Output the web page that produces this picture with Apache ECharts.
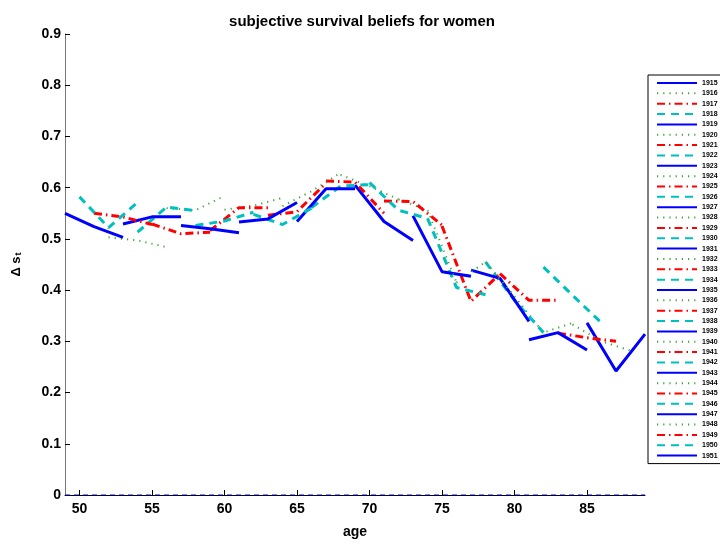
<!DOCTYPE html>
<html>
<head>
<meta charset="utf-8">
<script src="https://cdn.jsdelivr.net/npm/echarts@6/dist/echarts.min.js"></script>
<style>
  html, body { margin: 0; padding: 0; background: #fff; }
  #chart { width: 720px; height: 544px; }
</style>
</head>
<body>
<div id="chart"></div>
<script>
// survey waves; a cohort's age in a wave is wave - birth year
var waves = [2000, 2002, 2004]
var cohorts = [1915, 1916, 1917, 1918, 1919, 1920, 1921, 1922, 1923, 1924, 1925, 1926,
  1927, 1928, 1929, 1930, 1931, 1932, 1933, 1934, 1935, 1936, 1937, 1938, 1939, 1940,
  1941, 1942, 1943, 1944, 1945, 1946, 1947, 1948, 1949, 1950, 1951]

// delta s_t per cohort, one value per wave
var beliefs = [
  [0.336, 0.242, 0.314], // 1915
  [0.333, 0.300, 0.282], // 1916
  [0.316, 0.307, 0.300], // 1917
  [0.445, 0.390, 0.336], // 1918
  [0.303, 0.317, 0.283], // 1919
  [0.388, 0.317, 0.336], // 1920
  [0.432, 0.380, 0.380], // 1921
  [0.455, 0.380, 0.317], // 1922
  [0.439, 0.423, 0.339], // 1923
  [0.415, 0.455, 0.388], // 1924
  [0.525, 0.378, 0.432], // 1925
  [0.540, 0.405, 0.391], // 1926
  [0.545, 0.436, 0.427], // 1927
  [0.577, 0.556, 0.415], // 1928
  [0.574, 0.573, 0.527], // 1929
  [0.610, 0.556, 0.540], // 1930
  [0.605, 0.534, 0.497], // 1931
  [0.625, 0.603, 0.577], // 1932
  [0.613, 0.611, 0.550], // 1933
  [0.561, 0.603, 0.606], // 1934
  [0.534, 0.598, 0.598], // 1935
  [0.564, 0.593, 0.629], // 1936
  [0.546, 0.553, 0.609], // 1937
  [0.548, 0.528, 0.560], // 1938
  [0.533, 0.539, 0.571], // 1939
  [0.557, 0.565, 0.580], // 1940
  [0.516, 0.561, 0.561], // 1941
  [0.526, 0.535, 0.552], // 1942
  [0.526, 0.520, 0.512], // 1943
  [0.560, 0.556, 0.584], // 1944
  [0.529, 0.510, 0.513], // 1945
  [0.513, 0.562, 0.555], // 1946
  [0.529, 0.543, 0.543], // 1947
  [0.503, 0.497, 0.484], // 1948
  [0.550, 0.543, 0.528], // 1949
  [0.582, 0.522, 0.571], // 1950
  [0.550, 0.524, 0.503]  // 1951
]

var ageTicks = [50, 55, 60, 65, 70, 75, 80, 85]
var zeroLine = [[49, 0], [89, 0]]

var font = 'Liberation Sans, Arial, Helvetica, sans-serif'

// matlab line style cycle: b-, g:, r-., c--
var styles = [
  { color: '#0000ff', width: 3, type: 'solid' },
  { color: '#3fa43f', width: 2, type: [1.2, 5] },
  { color: '#ff0000', width: 3, type: [8, 4, 1.5, 4] },
  { color: '#00bfbf', width: 3, type: [8, 6] }
]

var series = cohorts.map(function (c, i) {
  return {
    name: String(c),
    type: 'line',
    symbol: 'none',
    lineStyle: styles[i % 4],
    itemStyle: { color: styles[i % 4].color, opacity: 0 },
    data: waves.map(function (w, k) { return [w - c, beliefs[i][k]] })
  }
})

series.push({
  name: 'zero',
  type: 'line',
  symbol: 'none',
  z: 1,
  lineStyle: { color: '#0000ff', width: 1, type: [5, 4] },
  data: zeroLine
})

var chart = echarts.init(document.getElementById('chart'))
chart.setOption({
  animation: false,
  textStyle: { fontFamily: font },
  title: {
    text: 'subjective survival beliefs for women',
    left: 357,
    top: 9,
    textAlign: 'center',
    textStyle: { fontSize: 15, fontWeight: 'bold', color: '#000', fontFamily: font }
  },
  grid: { left: 65, right: 75, top: 34, bottom: 43 },
  legend: {
    data: cohorts.map(String),
    orient: 'vertical',
    left: 648,
    top: 75,
    padding: [4, 24, 4, 8],
    itemWidth: 40,
    itemHeight: 8,
    itemGap: 2.35,
    borderColor: '#000',
    borderWidth: 1,
    backgroundColor: '#fff',
    itemStyle: { opacity: 0 },
    textStyle: { fontSize: 7, fontWeight: 'bold', color: '#000', lineHeight: 8, fontFamily: font }
  },
  xAxis: {
    type: 'value',
    min: 49,
    max: 89,
    name: 'age',
    nameLocation: 'middle',
    nameGap: 30,
    nameTextStyle: { fontSize: 14, fontWeight: 'bold', color: '#000', fontFamily: font },
    axisLine: { lineStyle: { color: '#000', width: 1 } },
    axisTick: { inside: true, length: 5, customValues: ageTicks, lineStyle: { color: '#000' } },
    axisLabel: { customValues: ageTicks, margin: 7, fontSize: 14, fontWeight: 'bold', color: '#000', fontFamily: font },
    splitLine: { show: false }
  },
  yAxis: {
    type: 'value',
    min: 0,
    max: 0.9,
    interval: 0.1,
    name: '{a|Δ s}{b|t}',
    nameLocation: 'middle',
    nameRotate: 90,
    nameGap: 42,
    nameTextStyle: {
      rich: {
        a: { fontSize: 13, fontWeight: 'bold', color: '#000', fontFamily: font, verticalAlign: 'bottom', lineHeight: 18 },
        b: { fontSize: 9, fontWeight: 'bold', color: '#000', fontFamily: font, verticalAlign: 'bottom', lineHeight: 12, padding: [6, 0, 0, 1] }
      }
    },
    axisLine: { show: true, lineStyle: { color: '#777', width: 1 } },
    axisTick: { inside: true, length: 5, lineStyle: { color: '#000' } },
    axisLabel: { margin: 4, fontSize: 14, fontWeight: 'bold', color: '#000', fontFamily: font },
    splitLine: { show: false }
  },
  series: series
})
</script>
</body>
</html>
